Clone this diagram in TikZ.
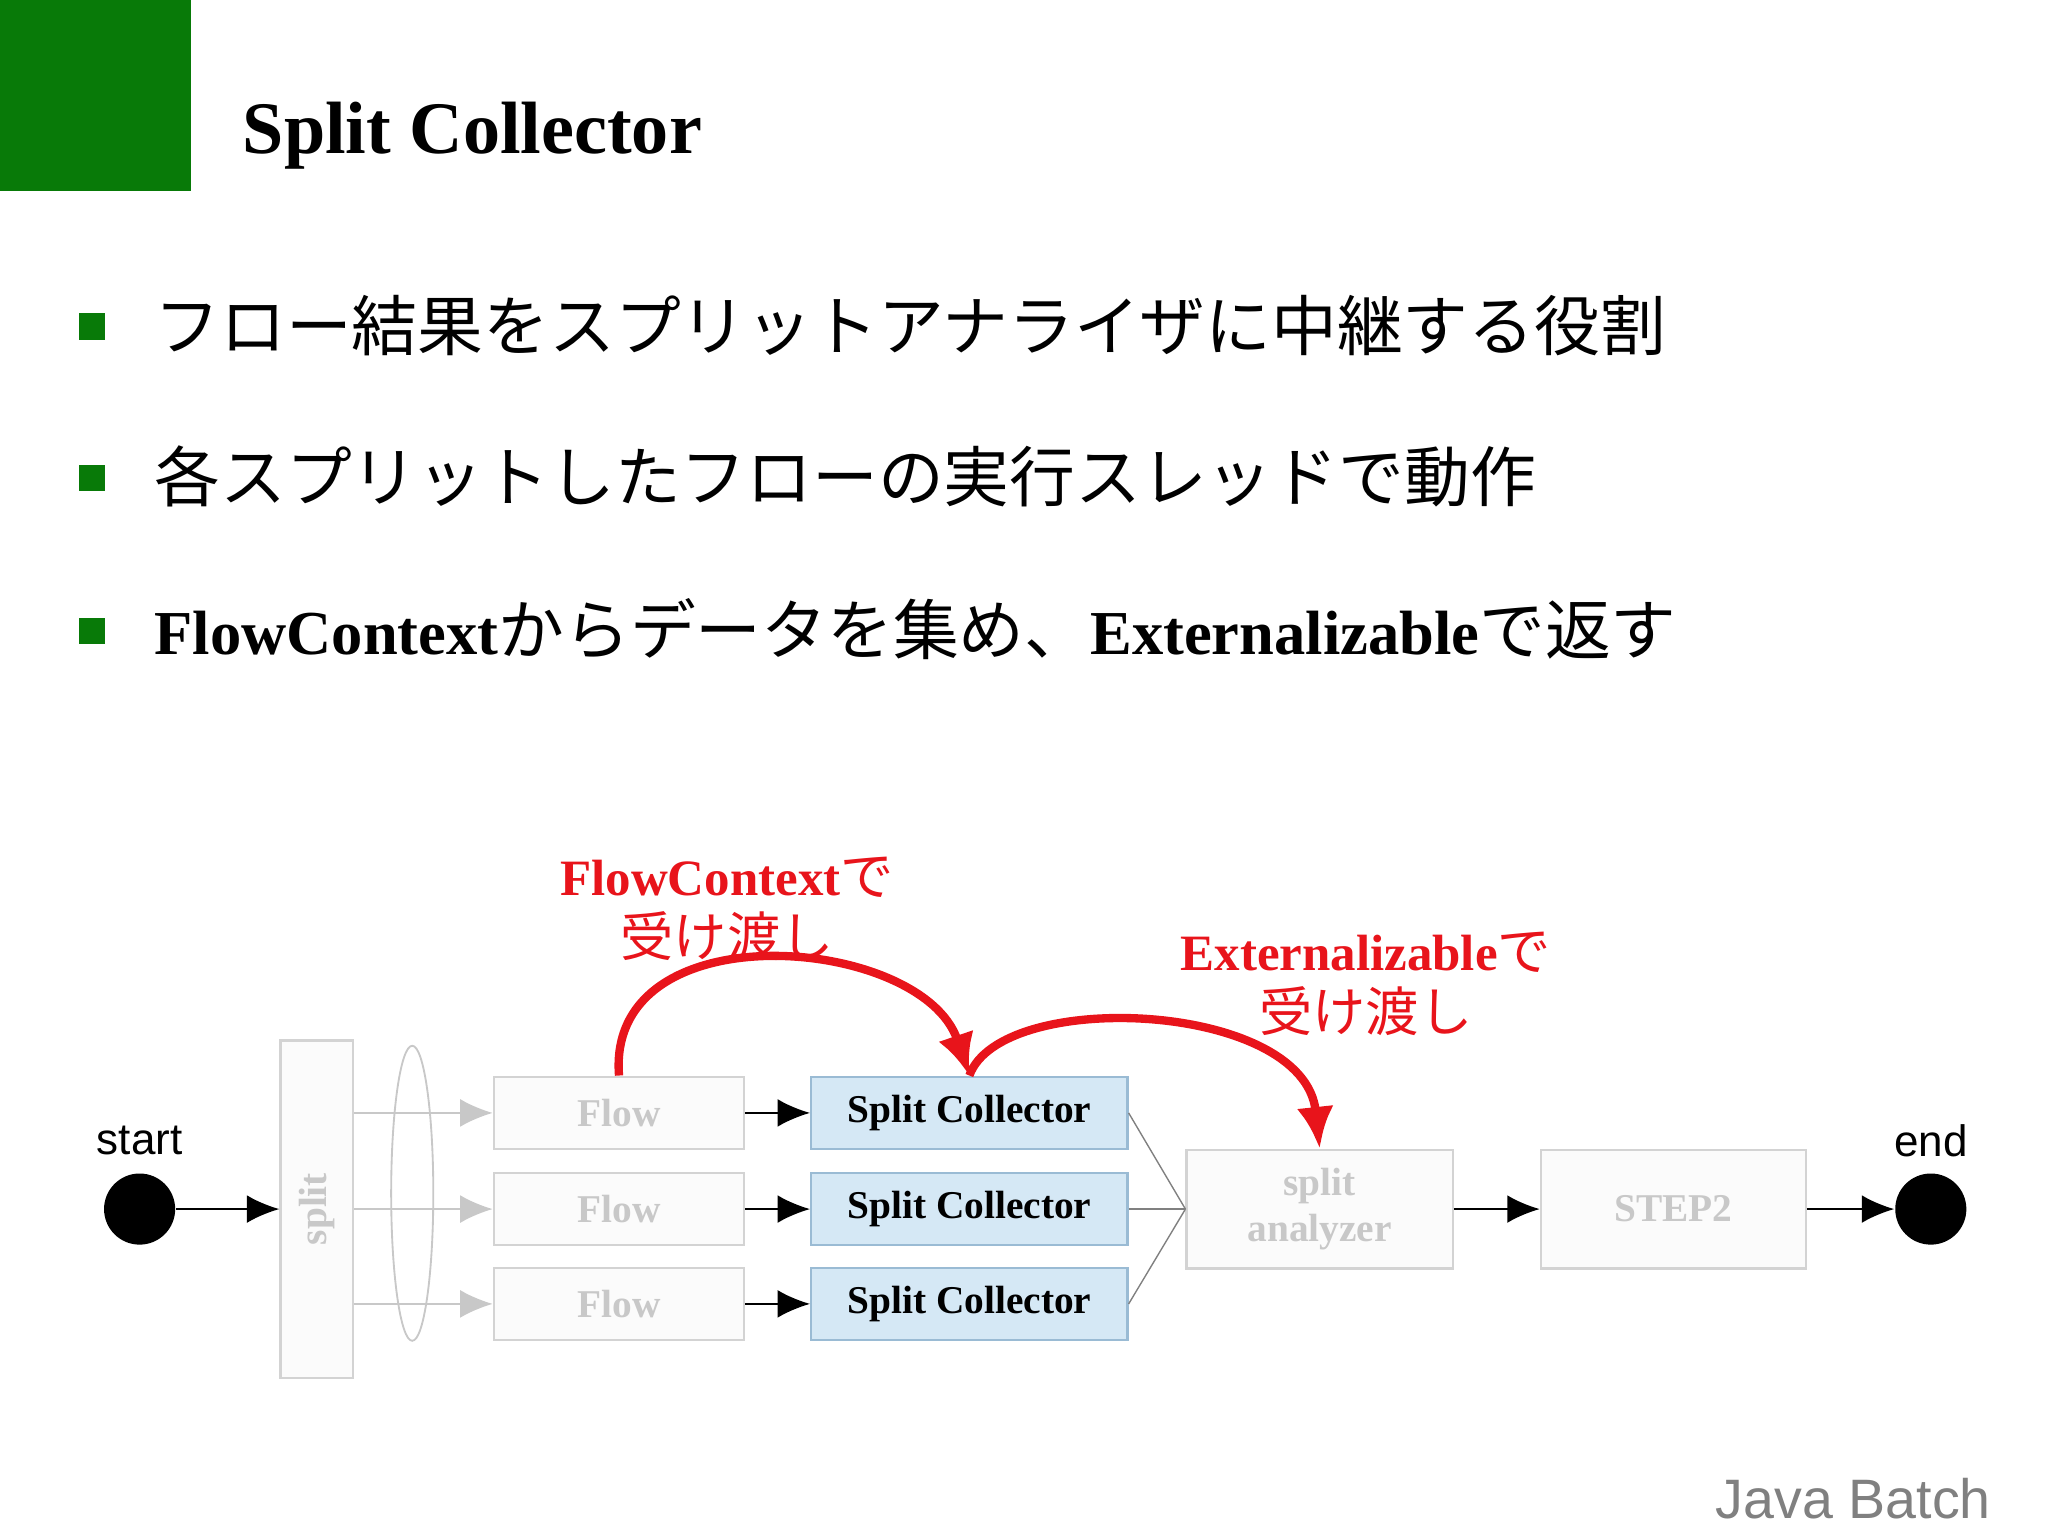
\documentclass[tikz,border=0pt]{standalone}
\usepackage{fontspec}
\setmainfont{Liberation Sans}
\newfontfamily\cjk{Noto Sans CJK JP}
\newfontfamily\gthfont{Liberation Serif}
\usetikzlibrary{arrows.meta}
\definecolor{grn}{HTML}{087A08}
\definecolor{lg}{HTML}{C8C8C8}
\definecolor{bl}{HTML}{D5E8F5}
\definecolor{bld}{HTML}{9ABBD4}
\definecolor{rd}{HTML}{E8141B}
\newcommand{\gth}[1]{{\gthfont\bfseries #1}}
\begin{document}
\begin{tikzpicture}[x=0.01cm,y=-0.01cm,
 gbox/.style={draw=lg!80,fill=gray!3,line width=0.5pt,text=lg,font=\fontsize{8.5}{10}\selectfont},
 cbox/.style={draw=bld,fill=bl,line width=0.5pt,font=\fontsize{8.5}{10}\selectfont},
 bul/.style={anchor=west,font=\cjk\fontsize{14.2}{15}\selectfont},
 arr/.style={-{Latex[length=7pt,width=6pt]},line width=0.5pt},
 garr/.style={-{Latex[length=7pt,width=6pt]},draw=lg,line width=0.4pt},
 red/.style={-{Latex[length=9pt,width=8pt]},draw=rd,line width=1.8pt}]
\useasboundingbox (0,0) rectangle (1555,1166);
\fill[grn] (0,0) rectangle (145,145);
\node[anchor=west,font=\fontsize{16}{18}\selectfont] (title) at (172,103) {\gth{Split Collector}};
\foreach \yy/\nm in {248/b1,363/b2,479/b3}{\fill[grn] (60,\yy-10) rectangle (80,\yy+10);}
\node[bul] (t1) at (105,247) {フロー結果をスプリットアナライザに中継する役割};
\node[bul] (t2) at (105,362) {各スプリットしたフローの実行スレッドで動作};
\node[bul] (t3) at (105,478) {{\fontsize{13.5}{16}\selectfont\gth{FlowContext}}からデータを集め、{\fontsize{13.5}{16}\selectfont\gth{Externalizable}}で返す};
% diagram
\fill (106,918) circle (27);
\node (sc) at (106,918) [circle,minimum size=0.54cm,inner sep=0] {};
\node[font=\fontsize{9.5}{10}\selectfont] (stl) at (106,866) {start};
\fill (1466,918) circle (27);
\node (ec) at (1466,918) [circle,minimum size=0.54cm,inner sep=0] {};
\node[font=\fontsize{9.5}{10}\selectfont] (enl) at (1466,866) {end};
\node[gbox,minimum width=0.55cm,minimum height=2.56cm] (sp) at (240.5,918) {\rotatebox{90}{\gth{split}}};
\draw[lg] (313,906) ellipse (16 and 112);
\foreach \yy/\n in {845/1,918/2,990/3}{
 \node[gbox,minimum width=1.9cm,minimum height=0.55cm] (f\n) at (470,\yy) {\gth{Flow}};
 \node[cbox,minimum width=2.4cm,minimum height=0.55cm] (c\n) at (736,\yy) {\gth{Split Collector}};
 \draw[lg,line width=0.3pt] (sp.east|-f\n) -- (345,\yy);
 \draw[garr] (345,\yy) -- (f\n.west);
 \draw[arr] (f\n) -- (c\n);
}
\node[gbox,minimum width=2.02cm,minimum height=0.9cm,align=center] (an) at (1002,918) {\gth{split}\\\gth{analyzer}};
\node[gbox,minimum width=2.01cm,minimum height=0.9cm] (st) at (1270.5,918) {\gth{STEP2}};
\foreach \n in {1,2,3}{\draw[gray,line width=0.3pt] (c\n.east) -- (an.west);}
\draw[arr] (sc) -- (sp);
\draw[arr] (an) -- (st);
\draw[arr] (st) -- (ec);
\draw[red] (f1.north) .. controls (460,690) and (700,710) .. (c1.north);
\draw[red] (c1.north) .. controls (760,750) and (990,760) .. (an.north);
\node[text=rd,align=center,font=\cjk\fontsize{11.5}{13}\selectfont] (l1) at (552,690) {{\fontsize{11}{13}\selectfont\gth{FlowContext}}で\\受け渡し};
\node[text=rd,align=center,font=\cjk\fontsize{11.5}{13}\selectfont] (l2) at (1037,747) {{\fontsize{11}{13}\selectfont\gth{Externalizable}}で\\受け渡し};
\node[anchor=east,text=gray,font=\fontsize{12}{13}\selectfont] (jb) at (1524,1138) {Java Batch};
\end{tikzpicture}
\end{document}
